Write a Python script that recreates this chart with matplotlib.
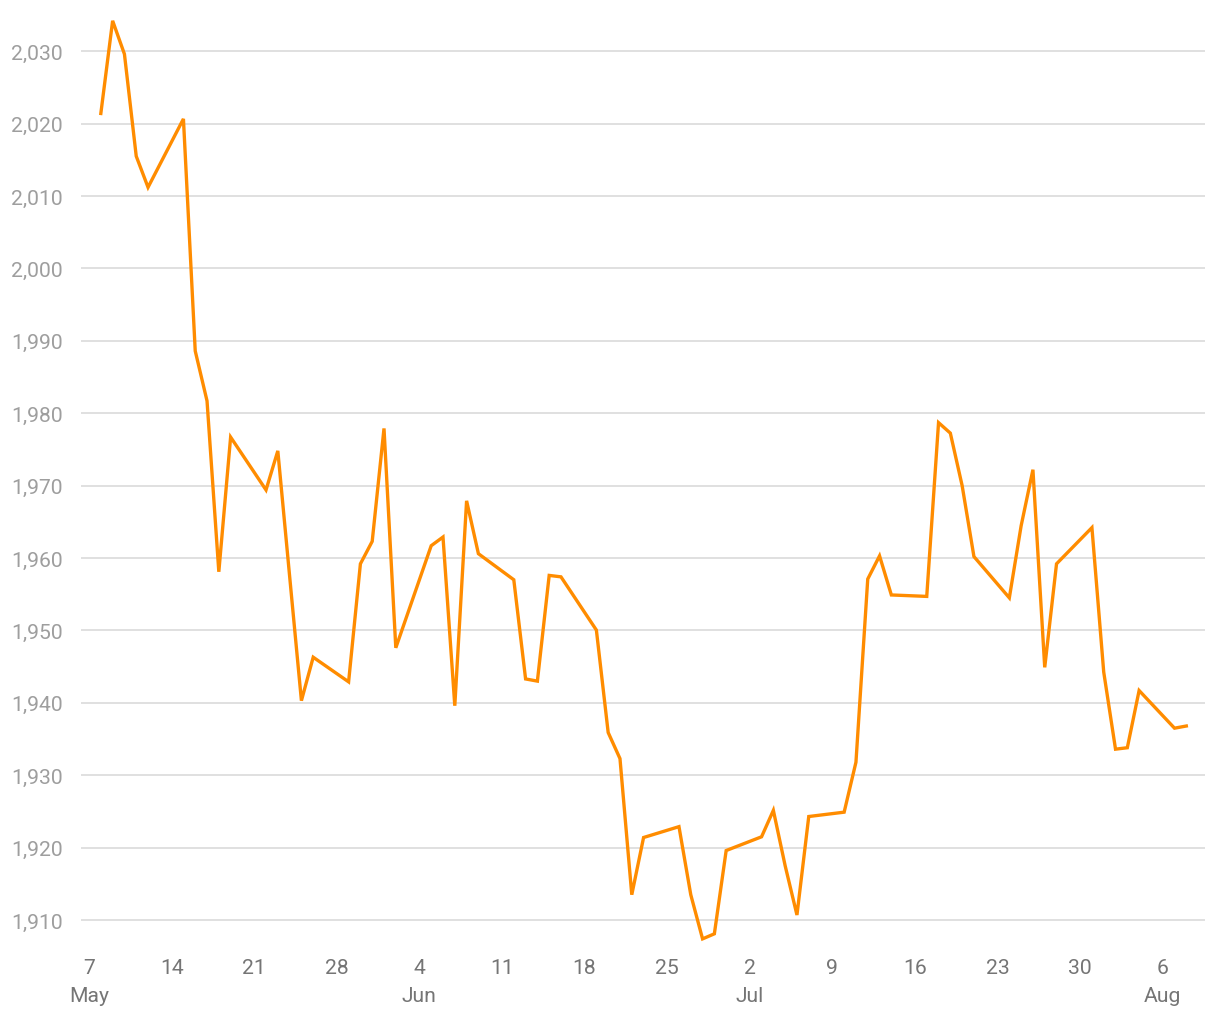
import matplotlib
matplotlib.use("Agg")
import matplotlib.pyplot as plt
import matplotlib.dates as mdates
import numpy as np
import pandas as pd

plt.rcParams['font.family'] = ['Roboto', 'DejaVu Sans']

dates = pd.to_datetime([
    "2023-05-08", "2023-05-09", "2023-05-10", "2023-05-11", "2023-05-12",
    "2023-05-15", "2023-05-16", "2023-05-17", "2023-05-18", "2023-05-19",
    "2023-05-22", "2023-05-23", "2023-05-24", "2023-05-25", "2023-05-26",
    "2023-05-29", "2023-05-30", "2023-05-31", "2023-06-01", "2023-06-02",
    "2023-06-05", "2023-06-06", "2023-06-07", "2023-06-08", "2023-06-09",
    "2023-06-12", "2023-06-13", "2023-06-14", "2023-06-15", "2023-06-16",
    "2023-06-19", "2023-06-20", "2023-06-21", "2023-06-22", "2023-06-23",
    "2023-06-26", "2023-06-27", "2023-06-28", "2023-06-29", "2023-06-30",
    "2023-07-03", "2023-07-04", "2023-07-05", "2023-07-06", "2023-07-07",
    "2023-07-10", "2023-07-11", "2023-07-12", "2023-07-13", "2023-07-14",
    "2023-07-17", "2023-07-18", "2023-07-19", "2023-07-20", "2023-07-21",
    "2023-07-24", "2023-07-25", "2023-07-26", "2023-07-27", "2023-07-28",
    "2023-07-31", "2023-08-01", "2023-08-02", "2023-08-03", "2023-08-04",
    "2023-08-07", "2023-08-08",
])

prices = [
    2021.4, 2034.2, 2029.6, 2015.5, 2011.2,
    2020.65, 1988.6, 1981.7, 1958.1, 1976.7,
    1969.4, 1974.8, 1957.5, 1940.3, 1946.3,
    1942.9, 1959.2, 1962.3, 1977.9, 1947.6,
    1961.7, 1962.9, 1939.6, 1967.9, 1960.6,
    1957.0, 1943.3, 1943.0, 1957.6, 1957.4,
    1950.05, 1935.9, 1932.3, 1913.5, 1921.4,
    1922.9, 1913.5, 1907.4, 1908.1, 1919.6,
    1921.5, 1925.15, 1917.5, 1910.7, 1924.3,
    1924.9, 1931.8, 1957.1, 1960.3, 1954.9,
    1954.7, 1978.7, 1977.25, 1970.0, 1960.2,
    1954.5, 1964.45, 1972.2, 1944.9, 1959.2,
    1964.2, 1944.25, 1933.6, 1933.8, 1941.7,
    1936.5, 1936.8,
]

y_ticks = [1910, 1920, 1930, 1940, 1950, 1960, 1970, 1980, 1990, 2000, 2010, 2020, 2030]
x_ticks = pd.to_datetime(["2023-05-07", "2023-05-14", "2023-05-21", "2023-05-28",
                          "2023-06-04", "2023-06-11", "2023-06-18", "2023-06-25",
                          "2023-07-02", "2023-07-09", "2023-07-16", "2023-07-23",
                          "2023-07-30", "2023-08-06"])
x_labels = ["7\nMay", "14", "21", "28", "4\nJun", "11", "18", "25",
            "2\nJul", "9", "16", "23", "30", "6\nAug"]

fig = plt.figure(figsize=(12.2, 10.2), dpi=100)
ax = fig.add_axes([0.0664, 0.0706, 0.9213, 0.9194])

ax.plot(dates, prices, color="#FF8C00", linewidth=2.4, solid_joinstyle="miter",
        zorder=3)

ax.set_ylim(1906.28, 2035.8)
ax.set_xlim(pd.Timestamp("2023-05-06 07:40"), pd.Timestamp("2023-08-09 14:00"))

ax.set_yticks(y_ticks)
ax.set_yticklabels([f"{v:,}" for v in y_ticks])
ax.set_xticks(x_ticks)
ax.set_xticklabels(x_labels, linespacing=1.6, va="top")

ax.grid(axis="y", color="#e0e0e0", linewidth=1.4, zorder=0)
ax.grid(axis="x", visible=False)
for s in ax.spines.values():
    s.set_visible(False)
ax.tick_params(axis="y", length=0, pad=13, labelsize=15.2, labelcolor="#9e9e9e")
ax.tick_params(axis="x", length=0, pad=8, labelsize=15.2, labelcolor="#757575")

fig.savefig("out.png", dpi=100, facecolor="white")
